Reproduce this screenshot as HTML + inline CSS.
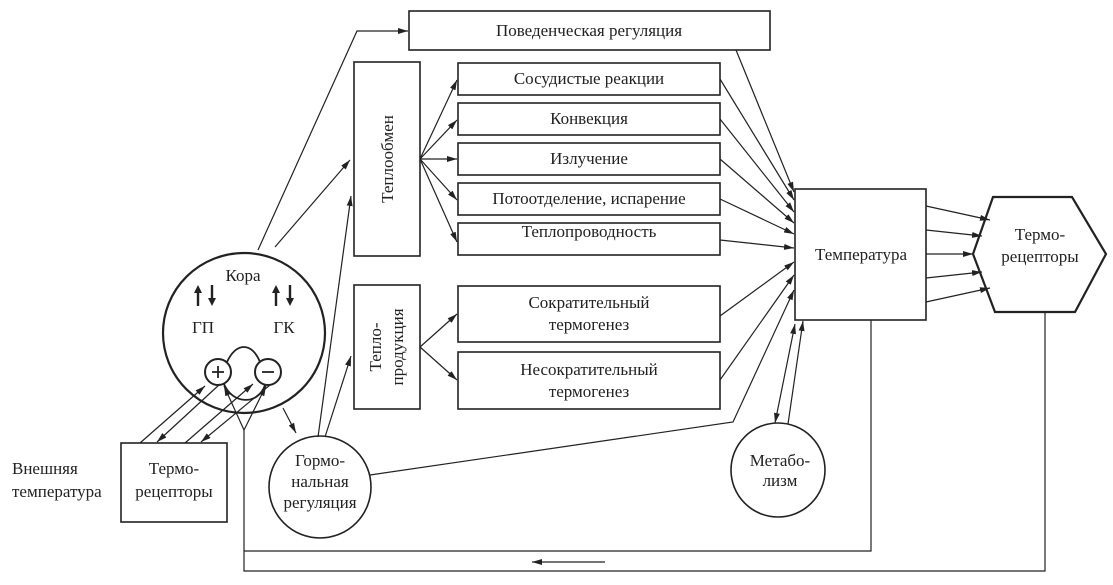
<!DOCTYPE html>
<html><head><meta charset="utf-8"><style>
body{margin:0;background:#fff}
svg{display:block}
text{font-family:"Liberation Serif",serif;font-size:17px;fill:#222}
</style></head><body>
<svg width="1113" height="585" viewBox="0 0 1113 585" xmlns="http://www.w3.org/2000/svg">
<defs>
<marker id="a" viewBox="0 0 10 6" refX="10" refY="3" markerWidth="10" markerHeight="6" orient="auto" markerUnits="userSpaceOnUse"><path d="M0,0L10,3L0,6z" fill="#222"/></marker>
<marker id="s" viewBox="0 0 10 6" refX="0" refY="3" markerWidth="10" markerHeight="6" orient="auto" markerUnits="userSpaceOnUse"><path d="M10,0L0,3L10,6z" fill="#222"/></marker>
</defs>
<g fill="none" stroke="#222" stroke-width="1.2">
<!-- boxes -->
<rect x="409" y="11" width="361" height="39" stroke-width="1.6"/>
<rect x="354" y="62" width="66" height="194" stroke-width="1.6"/>
<rect x="354" y="285" width="66" height="124" stroke-width="1.6"/>
<rect x="458" y="63" width="262" height="32" stroke-width="1.6"/>
<rect x="458" y="103" width="262" height="32" stroke-width="1.6"/>
<rect x="458" y="143" width="262" height="32" stroke-width="1.6"/>
<rect x="458" y="183" width="262" height="32" stroke-width="1.6"/>
<rect x="458" y="223" width="262" height="32" stroke-width="1.6"/>
<rect x="458" y="286" width="262" height="56" stroke-width="1.6"/>
<rect x="458" y="352" width="262" height="57" stroke-width="1.6"/>
<rect x="795" y="189" width="131" height="131" stroke-width="1.6"/>
<polygon points="973,254 993,197 1072,197 1106,254 1075,312 995,312" stroke-width="2.2"/>
<rect x="121" y="443" width="106" height="79" stroke-width="1.6"/>
<ellipse cx="244" cy="333" rx="81" ry="80" stroke-width="2.2"/>
<circle cx="218" cy="372" r="13" stroke-width="2"/>
<circle cx="268" cy="372" r="13" stroke-width="2"/>
<path d="M227,362 C236,342 252,342 260,362" stroke-width="1.8"/>
<path d="M224,384 C232,404 258,406 265,385" stroke-width="1.8"/>
<circle cx="320" cy="487" r="51" stroke-width="1.6"/>
<circle cx="778" cy="470" r="47" stroke-width="1.6"/>
<!-- kora arrows -->
<polyline points="258,250 357,31 408,31" marker-end="url(#a)"/>
<line x1="275" y1="247" x2="350" y2="160" marker-end="url(#a)"/>
<line x1="318" y1="437" x2="351" y2="196" marker-end="url(#a)"/>
<line x1="325" y1="437" x2="351" y2="356" marker-end="url(#a)"/>
<line x1="283" y1="408" x2="296" y2="433" marker-end="url(#a)"/>
<!-- fans -->
<line x1="420" y1="159" x2="457" y2="80" marker-end="url(#a)"/>
<line x1="420" y1="159" x2="457" y2="120" marker-end="url(#a)"/>
<line x1="420" y1="159" x2="457" y2="159" marker-end="url(#a)"/>
<line x1="420" y1="159" x2="457" y2="200" marker-end="url(#a)"/>
<line x1="420" y1="159" x2="457" y2="242" marker-end="url(#a)"/>
<line x1="420" y1="347" x2="457" y2="314" marker-end="url(#a)"/>
<line x1="420" y1="347" x2="457" y2="380" marker-end="url(#a)"/>
<!-- to temperature -->
<line x1="736" y1="50" x2="794" y2="192" marker-end="url(#a)"/>
<line x1="720" y1="79" x2="794" y2="200" marker-end="url(#a)"/>
<line x1="720" y1="119" x2="794" y2="212" marker-end="url(#a)"/>
<line x1="720" y1="159" x2="794" y2="223" marker-end="url(#a)"/>
<line x1="720" y1="199" x2="794" y2="234" marker-end="url(#a)"/>
<line x1="720" y1="240" x2="794" y2="248" marker-end="url(#a)"/>
<line x1="720" y1="316" x2="794" y2="262" marker-end="url(#a)"/>
<line x1="720" y1="380" x2="794" y2="275" marker-end="url(#a)"/>
<polyline points="370,475 733,422 794,290" marker-end="url(#a)"/>
<line x1="775" y1="423" x2="795" y2="324" marker-start="url(#s)" marker-end="url(#a)"/>
<line x1="788" y1="424" x2="803" y2="321" marker-end="url(#a)"/>
<!-- to hex -->
<line x1="926" y1="206" x2="990" y2="220" marker-end="url(#a)"/>
<line x1="926" y1="230" x2="982" y2="236" marker-end="url(#a)"/>
<line x1="926" y1="254" x2="973" y2="254" marker-end="url(#a)"/>
<line x1="926" y1="278" x2="982" y2="272" marker-end="url(#a)"/>
<line x1="926" y1="302" x2="990" y2="288" marker-end="url(#a)"/>
<!-- feedback -->
<polyline points="871,320 871,551 244,551"/>
<polyline points="1045,312 1045,571 244,571 244,430"/>
<line x1="605" y1="562" x2="532" y2="562" marker-end="url(#a)"/>
<line x1="244" y1="430" x2="224" y2="386" marker-end="url(#a)"/>
<line x1="244" y1="430" x2="266" y2="386" marker-end="url(#a)"/>
<!-- receptor <-> kora -->
<line x1="140" y1="443" x2="205" y2="386" marker-end="url(#a)"/>
<line x1="220" y1="384" x2="157" y2="442" marker-end="url(#a)"/>
<line x1="185" y1="443" x2="253" y2="384" marker-end="url(#a)"/>
<line x1="270" y1="385" x2="201" y2="442" marker-end="url(#a)"/>
</g>
<g stroke="#222" stroke-width="2.4" fill="#222">
<line x1="198" y1="306" x2="198" y2="292"/><path d="M194,293L198,285L202,293z" stroke="none"/>
<line x1="212" y1="285" x2="212" y2="299"/><path d="M208,298L212,306L216,298z" stroke="none"/>
<line x1="276" y1="306" x2="276" y2="292"/><path d="M272,293L276,285L280,293z" stroke="none"/>
<line x1="290" y1="285" x2="290" y2="299"/><path d="M286,298L290,306L294,298z" stroke="none"/>
<line x1="212" y1="372" x2="224" y2="372" stroke-width="1.8"/><line x1="218" y1="366" x2="218" y2="378" stroke-width="1.8"/>
<line x1="262" y1="372" x2="274" y2="372" stroke-width="1.8"/>
</g>
<text x="589" y="36" text-anchor="middle">Поведенческая регуляция</text>
<text x="589" y="84" text-anchor="middle">Сосудистые реакции</text>
<text x="589" y="124" text-anchor="middle">Конвекция</text>
<text x="589" y="164" text-anchor="middle">Излучение</text>
<text x="589" y="204" text-anchor="middle">Потоотделение, испарение</text>
<text x="589" y="237" text-anchor="middle">Теплопроводность</text>
<text x="589" y="308" text-anchor="middle">Сократительный</text>
<text x="589" y="330" text-anchor="middle">термогенез</text>
<text x="589" y="375" text-anchor="middle">Несократительный</text>
<text x="589" y="397" text-anchor="middle">термогенез</text>
<text transform="translate(393,159) rotate(-90)" text-anchor="middle">Теплообмен</text>
<text transform="translate(381,347) rotate(-90)" text-anchor="middle">Тепло-</text>
<text transform="translate(403,347) rotate(-90)" text-anchor="middle">продукция</text>
<text x="861" y="260" text-anchor="middle">Температура</text>
<text x="1040" y="240" text-anchor="middle">Термо-</text>
<text x="1040" y="262" text-anchor="middle">рецепторы</text>
<text x="243" y="281" text-anchor="middle">Кора</text>
<text x="203" y="333" text-anchor="middle">ГП</text>
<text x="284" y="333" text-anchor="middle">ГК</text>
<text x="174" y="474" text-anchor="middle">Термо-</text>
<text x="174" y="497" text-anchor="middle">рецепторы</text>
<text x="12" y="474">Внешняя</text>
<text x="12" y="497">температура</text>
<text x="320" y="466" text-anchor="middle">Гормо-</text>
<text x="320" y="487" text-anchor="middle">нальная</text>
<text x="320" y="508" text-anchor="middle">регуляция</text>
<text x="780" y="466" text-anchor="middle">Метабо-</text>
<text x="780" y="486" text-anchor="middle">лизм</text>
</svg>
</body></html>
